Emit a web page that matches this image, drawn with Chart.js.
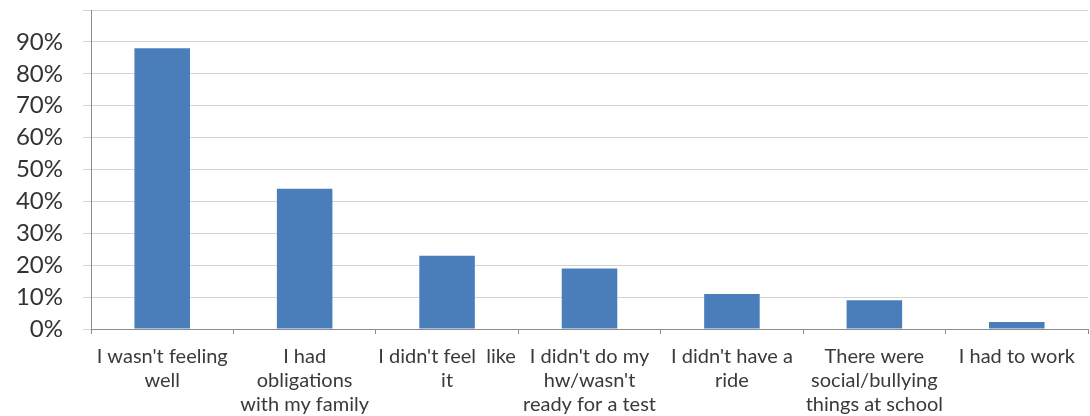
<!DOCTYPE html>
<html>
<head>
<meta charset="utf-8">
<script src="https://cdn.jsdelivr.net/npm/chart.js@4/dist/chart.umd.min.js"></script>
<style>
  html, body { margin: 0; padding: 0; background: #fff; }
  #wrap { width: 1090px; height: 416px; position: relative; }
</style>
</head>
<body>
<div id="wrap"><canvas id="absenceChart"></canvas></div>
<script>
// reasons for missing school (multi-line labels)
const reasons = [
    ["I wasn't feeling", "well"],
    ["I had", "obligations", "with my family"],
    ["I didn't feel  like", "it"],
    ["I didn't do my", "hw/wasn't", "ready for a test"],
    ["I didn't have a", "ride"],
    ["There were", "social/bullying", "things at school"],
    ["I had to work"]
];
// share of answers, in percent
const percentages = [88, 44, 23, 19, 11, 9, 2.2];
const yTicks = [0, 10, 20, 30, 40, 50, 60, 70, 80, 90];

const axisGray = '#8c8c8c';
const gridGray = '#d4d4d4';

new Chart(document.getElementById('absenceChart'), {
    type: 'bar',
    data: {
        labels: reasons,
        datasets: [{
            data: percentages,
            backgroundColor: '#4a7ebb',
            borderWidth: 0,
            barPercentage: 0.39,
            categoryPercentage: 1
        }]
    },
    options: {
        responsive: true,
        maintainAspectRatio: false,
        animation: false,
        layout: { padding: { top: 10, right: 2, left: 0, bottom: 0 } },
        plugins: { legend: { display: false }, tooltip: { enabled: false } },
        scales: {
            x: {
                grid: {
                    offset: true,
                    drawOnChartArea: false,
                    drawTicks: true,
                    tickLength: 5,
                    color: axisGray
                },
                border: { color: axisGray },
                ticks: {
                    autoSkip: false,
                    maxRotation: 0,
                    padding: 11,
                    color: '#3a3a3a',
                    font: { family: 'Lato', size: 20, lineHeight: 1.2 }
                },
                afterFit: function(scale) { scale.height = 87; }
            },
            y: {
                min: 0,
                max: 100,
                afterBuildTicks: function(scale) {
                    scale.ticks = yTicks.concat([100]).map(v => ({ value: v }));
                },
                grid: {
                    color: gridGray,
                    tickLength: 8,
                    tickColor: gridGray
                },
                border: { color: axisGray },
                ticks: {
                    autoSkip: false,
                    padding: 20,
                    color: '#333',
                    font: { family: 'Lato', size: 24 },
                    callback: function(v) { return yTicks.includes(v) ? v + '%' : ''; }
                },
                afterFit: function(scale) {
                    scale.width = 91;
                    // the top tick has no label, so no extra room above it
                    scale.paddingTop = 0;
                }
            }
        }
    }
});
</script>
</body>
</html>
